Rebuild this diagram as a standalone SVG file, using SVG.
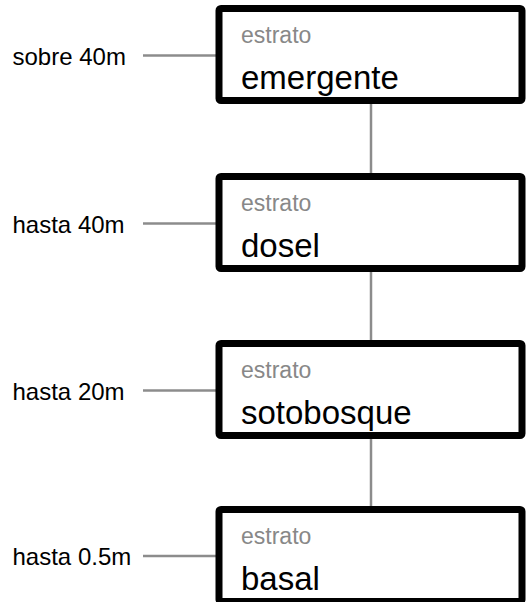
<svg xmlns="http://www.w3.org/2000/svg" width="527" height="602" viewBox="0 0 527 602">
<style>
.box{fill:#fff;stroke:#000;stroke-width:7;}
.cap{font-family:"Liberation Sans",Arial,sans-serif;font-size:23px;fill:#888;}
.main{font-family:"Liberation Sans",Arial,sans-serif;font-size:33px;fill:#000;}
.side{font-family:"Liberation Sans",Arial,sans-serif;font-size:24px;fill:#000;}
.con{stroke:#8c8c8c;stroke-width:2.5;fill:none;}
</style>
<rect width="527" height="602" fill="#fff"/>
<g id="connectors">
<line class="con" x1="371" y1="104" x2="371" y2="173"/>
<line class="con" x1="371" y1="272" x2="371" y2="340"/>
<line class="con" x1="371" y1="439" x2="371" y2="506"/>
<line class="con" x1="143" y1="55.5" x2="216" y2="55.5"/>
<line class="con" x1="143" y1="223.5" x2="216" y2="223.5"/>
<line class="con" x1="143" y1="390.5" x2="216" y2="390.5"/>
<line class="con" x1="143" y1="556" x2="216" y2="556"/>
</g>
<g id="emergente">
<rect class="box" x="219" y="8.5" width="303" height="92" rx="2"/>
<text class="cap" x="241" y="43">estrato</text>
<text class="main" x="241" y="89">emergente</text>
<text class="side" x="12.5" y="65">sobre 40m</text>
</g>
<g id="dosel">
<rect class="box" x="219" y="176.5" width="303" height="92" rx="2"/>
<text class="cap" x="241" y="211">estrato</text>
<text class="main" x="241" y="257">dosel</text>
<text class="side" x="12.5" y="233">hasta 40m</text>
</g>
<g id="sotobosque">
<rect class="box" x="219" y="343.5" width="303" height="92" rx="2"/>
<text class="cap" x="241" y="378">estrato</text>
<text class="main" x="241" y="424">sotobosque</text>
<text class="side" x="12.5" y="400">hasta 20m</text>
</g>
<g id="basal">
<rect class="box" x="219" y="509.5" width="303" height="92" rx="2"/>
<text class="cap" x="241" y="544">estrato</text>
<text class="main" x="241" y="590">basal</text>
<text class="side" x="12.5" y="565">hasta 0.5m</text>
</g>
</svg>
